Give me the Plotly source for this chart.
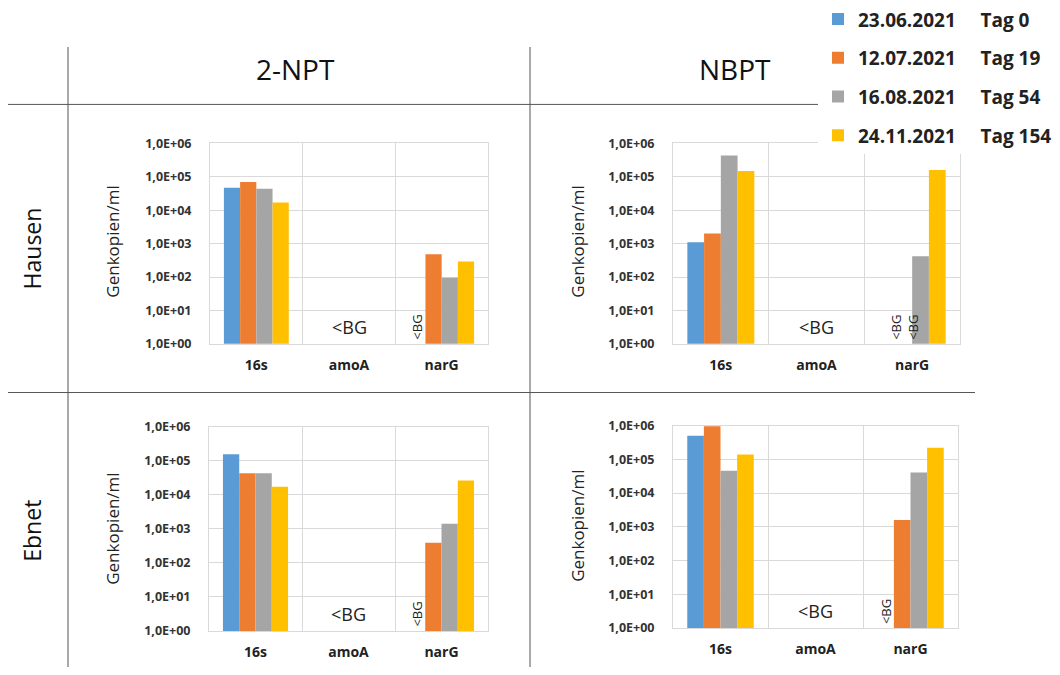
import plotly.graph_objects as go
from plotly.subplots import make_subplots

W, H = 1060, 675

genes = ["16s", "amoA", "narG"]
series_names = ["23.06.2021", "12.07.2021", "16.08.2021", "24.11.2021"]
series_days = ["Tag 0", "Tag 19", "Tag 54", "Tag 154"]
colors = ["#5B9BD5", "#ED7D31", "#A5A5A5", "#FFC000"]

# values per panel: [series][gene]; None = below background (<BG)
hausen_2npt = [
    [4.7e4, None, None],
    [7.0e4, None, 480],
    [4.4e4, None, 95],
    [1.7e4, None, 290],
]
hausen_nbpt = [
    [1.1e3, None, None],
    [2.0e3, None, None],
    [4.3e5, None, 420],
    [1.5e5, None, 1.6e5],
]
ebnet_2npt = [
    [1.55e5, None, None],
    [4.3e4, None, 390],
    [4.3e4, None, 1.4e3],
    [1.7e4, None, 2.6e4],
]
ebnet_nbpt = [
    [5.0e5, None, None],
    [9.5e5, None, 1.6e3],
    [4.6e4, None, 4.1e4],
    [1.4e5, None, 2.2e5],
]

col_headers = ["2-NPT", "NBPT"]
row_headers = ["Hausen", "Ebnet"]
y_title = "Genkopien/ml"
tick_vals = [1, 10, 100, 1e3, 1e4, 1e5, 1e6]
tick_text = ["1,0E+00", "1,0E+01", "1,0E+02", "1,0E+03", "1,0E+04", "1,0E+05", "1,0E+06"]

panels = [hausen_2npt, hausen_nbpt, ebnet_2npt, ebnet_nbpt]

fig = make_subplots(rows=2, cols=2)

for p, data in enumerate(panels):
    r, c = p // 2 + 1, p % 2 + 1
    for s in range(4):
        fig.add_trace(
            go.Bar(
                x=genes,
                y=data[s],
                name=f"<b>{series_names[s]}\u00a0\u00a0\u00a0\u00a0\u00a0{series_days[s]}</b>",
                marker=dict(color=colors[s], line=dict(width=0)),
                legendgroup=series_names[s],
                showlegend=(p == 0),
            ),
            row=r, col=c,
        )

def px_x(v):
    return v / W

def px_y(v):
    return 1 - v / H

domains = [
    ((210, 488), (137, 343)),
    ((673, 960), (137, 343)),
    ((209, 488), (428, 638)),
    ((673, 958), (427, 635)),
]

font_family = "Open Sans"
grid_col = "#D9D9D9"

for i, ((x0, x1), (y0, y1)) in enumerate(domains):
    sfx = "" if i == 0 else str(i + 1)
    fig.layout["xaxis" + sfx].update(
        domain=[px_x(x0), px_x(x1)],
        type="category",
        tickson="boundaries",
        showgrid=True,
        gridcolor=grid_col,
        showline=True,
        mirror=True,
        linecolor=grid_col,
        ticks="",
        ticklabelstandoff=8,
        tickfont=dict(family=font_family, size=14, color="#222"),
        tickprefix="<b>", ticksuffix="</b>",
        zeroline=False,
    )
    fig.layout["yaxis" + sfx].update(
        domain=[px_y(y1), px_y(y0)],
        type="log",
        range=[0, 6],
        tickvals=tick_vals,
        ticktext=[f"<b>{t}</b>" for t in tick_text],
        showgrid=True,
        gridcolor=grid_col,
        showline=True,
        mirror=True,
        linecolor=grid_col,
        ticks="",
        ticklabelstandoff=15,
        tickfont=dict(family=font_family, size=12.5, color="#333"),
        zeroline=False,
    )

annotations = []
# column headers
for txt, xp in zip(col_headers, [295, 735]):
    annotations.append(dict(text=txt, x=px_x(xp), y=px_y(61), xref="paper", yref="paper",
                            xanchor="center", yanchor="middle",
                            showarrow=False, font=dict(family=font_family, size=28, color="#111")))
# row headers
for txt, yp in zip(row_headers, [245, 535]):
    annotations.append(dict(text=txt, x=px_x(32), y=px_y(yp), xref="paper", yref="paper",
                            xanchor="center", yanchor="middle",
                            textangle=-90, showarrow=False,
                            font=dict(family=font_family, size=23, color="#111")))
# y titles
for xp, yp in [(113, 238), (578, 238), (113, 533), (578, 530)]:
    annotations.append(dict(text=y_title, x=px_x(xp), y=px_y(yp), xref="paper", yref="paper",
                            xanchor="center", yanchor="middle",
                            textangle=-90, showarrow=False,
                            font=dict(family=font_family, size=17, color="#222")))

# <BG labels
bar_w = 0.7 / 4
for i in range(4):
    sfx = "" if i == 0 else str(i + 1)
    annotations.append(dict(text="<BG", x=1, y=0, xref="x" + sfx, yref="y" + sfx,
                            yanchor="bottom", yshift=3, showarrow=False,
                            font=dict(family=font_family, size=18, color="#222")))
    if i == 1:
        annotations.append(dict(text="<BG<br><BG", x=2 - 0.08, y=0, xref="x" + sfx, yref="y" + sfx,
                                yanchor="bottom", yshift=2, textangle=-90, showarrow=False,
                                font=dict(family=font_family, size=13, color="#222")))
    else:
        annotations.append(dict(text="<BG", x=2 - 1.5 * bar_w, y=0, xref="x" + sfx, yref="y" + sfx,
                                yanchor="bottom", yshift=2, textangle=-90, showarrow=False,
                                font=dict(family=font_family, size=13, color="#222")))

line_col = "#555555"
shapes = [
    dict(type="line", xref="paper", yref="paper", x0=px_x(68), x1=px_x(68), y0=0, y1=px_y(38),
         line=dict(color=line_col, width=1)),
    dict(type="line", xref="paper", yref="paper", x0=px_x(530), x1=px_x(530), y0=0, y1=px_y(38),
         line=dict(color=line_col, width=1)),
    dict(type="line", xref="paper", yref="paper", x0=px_x(8), x1=px_x(975), y0=px_y(97), y1=px_y(97),
         line=dict(color=line_col, width=1)),
    dict(type="line", xref="paper", yref="paper", x0=px_x(8), x1=px_x(975), y0=px_y(393), y1=px_y(393),
         line=dict(color=line_col, width=1)),
]

fig.update_layout(
    width=W, height=H,
    margin=dict(l=0, r=0, t=0, b=0),
    paper_bgcolor="white",
    plot_bgcolor="white",
    barmode="group",
    bargap=0.3,
    bargroupgap=0,
    annotations=annotations,
    shapes=shapes,
    legend=dict(x=px_x(818), y=1 + 10 / H, xanchor="left", yanchor="top",
                bgcolor="white", tracegroupgap=11,
                font=dict(family=font_family, size=19, color="#222")),
    font=dict(family=font_family),
)

fig.write_html("out.html")
